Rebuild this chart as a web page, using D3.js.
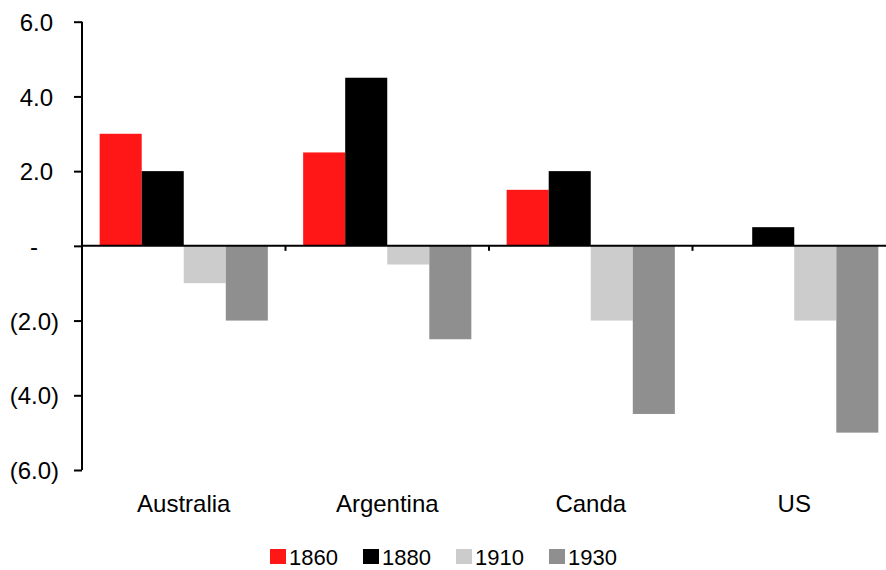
<!DOCTYPE html>
<html>
<head>
<meta charset="utf-8">
<script src="https://cdn.jsdelivr.net/npm/d3@7"></script>
<style>
  html, body { margin: 0; padding: 0; background: #fff; }
  svg { display: block; }
  text { font-family: "Liberation Sans", Arial, sans-serif; fill: #000; }
</style>
</head>
<body>
<svg id="chart" width="886" height="570"></svg>
<script>
// Categories and series
const countries = ["Australia", "Argentina", "Canda", "US"];
const years = ["1860", "1880", "1910", "1930"];
const colors = ["#ff1616", "#000000", "#cccccc", "#8f8f8f"];

// Values per year, in country order
const v1860 = [3.0, 2.5, 1.5, 0.0];
const v1880 = [2.0, 4.5, 2.0, 0.5];
const v1910 = [-1.0, -0.5, -2.0, -2.0];
const v1930 = [-2.0, -2.5, -4.5, -5.0];
const seriesValues = [v1860, v1880, v1910, v1930];

// Y axis ticks and their labels
const yTicks = [-6, -4, -2, 0, 2, 4, 6];
const yTickLabels = ["(6.0)", "(4.0)", "(2.0)", "-", "2.0", "4.0", "6.0"];

(function draw() {
  const svg = d3.select("#chart");
  const plotLeft = 82, plotRight = 896, plotTop = 21.7, plotBottom = 470;

  const y = d3.scaleLinear().domain([-6, 6]).range([plotBottom, plotTop]);
  const x = d3.scaleBand().domain(countries).range([plotLeft, plotRight]).paddingInner(0).paddingOuter(0);
  const xs = d3.scaleBand().domain(years).range([0, x.bandwidth()]).paddingInner(0).paddingOuter(0.42);
  const color = d3.scaleOrdinal().domain(years).range(colors);

  // Bars
  const rows = [];
  countries.forEach((c, i) => {
    years.forEach((yr, j) => rows.push({ country: c, year: yr, value: seriesValues[j][i] }));
  });

  svg.append("g").selectAll("rect")
    .data(rows.filter(d => d.value !== 0))
    .join("rect")
    .attr("x", d => x(d.country) + xs(d.year))
    .attr("width", xs.bandwidth())
    .attr("y", d => y(Math.max(0, d.value)))
    .attr("height", d => Math.abs(y(d.value) - y(0)))
    .attr("fill", d => color(d.year));

  // Y axis
  const labelFor = d3.scaleOrdinal().domain(yTicks).range(yTickLabels);
  const yAxis = svg.append("g")
    .attr("transform", `translate(${plotLeft},0)`)
    .call(d3.axisLeft(y).tickValues(yTicks).tickSize(8).tickPadding(0).tickFormat(d => labelFor(d)));
  yAxis.select(".domain").attr("stroke", "#000").attr("stroke-width", 2).attr("d", `M0,${plotTop}V${plotBottom}`);
  yAxis.selectAll(".tick line").attr("stroke", "#000").attr("stroke-width", 2);
  yAxis.selectAll(".tick text")
    .attr("font-size", 24)
    .attr("dy", "0.36em")
    .attr("x", d => d < 0 ? -23 : (d === 0 ? -44 : -29));

  // X axis along zero line, ticks between categories
  const xAxisG = svg.append("g").attr("transform", `translate(0,${y(0)})`);
  xAxisG.append("line")
    .attr("x1", plotLeft).attr("x2", plotRight)
    .attr("stroke", "#000").attr("stroke-width", 2);
  xAxisG.selectAll("line.sep")
    .data(countries.slice(1))
    .join("line")
    .attr("class", "sep")
    .attr("x1", d => x(d)).attr("x2", d => x(d))
    .attr("y1", 0).attr("y2", 5)
    .attr("stroke", "#000").attr("stroke-width", 2);

  // Category labels below the plot
  svg.append("g").selectAll("text")
    .data(countries)
    .join("text")
    .attr("x", d => x(d) + x.bandwidth() / 2)
    .attr("y", 512)
    .attr("text-anchor", "middle")
    .attr("font-size", 24)
    .text(d => d);

  // Legend
  const legend = svg.append("g").attr("transform", "translate(270,549)");
  const item = legend.selectAll("g")
    .data(years)
    .join("g")
    .attr("transform", (d, i) => `translate(${i * 93},0)`);
  item.append("rect")
    .attr("width", 16).attr("height", 15)
    .attr("fill", d => color(d));
  item.append("text")
    .attr("x", 19).attr("y", 16)
    .attr("font-size", 22)
    .text(d => d);
})();
</script>
</body>
</html>
